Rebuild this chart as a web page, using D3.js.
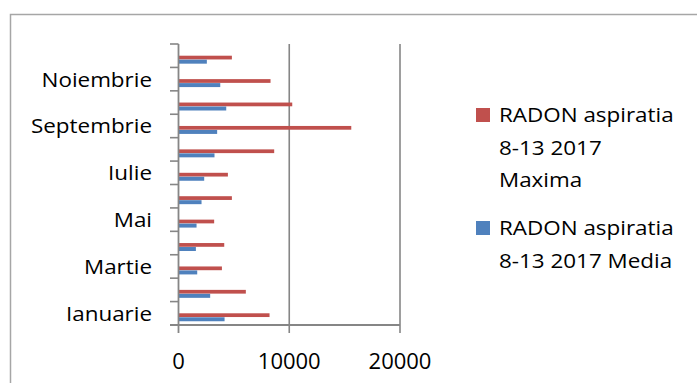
<!DOCTYPE html>
<html><head><meta charset="utf-8">
<script src="https://cdn.jsdelivr.net/npm/d3@7"></script>
<style>
html,body{margin:0;padding:0;background:#fff;}
text{font-family:"Open Sans",sans-serif;fill:#000;}
</style></head>
<body>
<svg id="chart" width="697" height="383"></svg>
<script>
const months = ["Ianuarie","Februarie","Martie","Aprilie","Mai","Iunie","Iulie","August","Septembrie","Octombrie","Noiembrie","Decembrie"];
const shownLabels = ["Ianuarie","Martie","Mai","Iulie","Septembrie","Noiembrie"];
const maxima = [8220, 6080, 3920, 4130, 3220, 4820, 4460, 8640, 15600, 10270, 8310, 4820];
const media  = [4160, 2860, 1690, 1570, 1630, 2080, 2320, 3250, 3490, 4310, 3770, 2560];
const xTicks = [0, 10000, 20000];
const seriesNames = [["RADON aspiratia","8-13 2017","Maxima"],["RADON aspiratia","8-13 2017 Media"]];
const colors = ["#c0504d","#4f81bd"];

const svg = d3.select("#chart");
const gridColor = "#868686";
const sx = 1.15;

svg.append("rect").attr("x",10.5).attr("y",14.5).attr("width",800).attr("height",500)
  .attr("fill","none").attr("stroke","#a6a6a6").attr("stroke-width",1.5);

const x = d3.scaleLinear().domain([0,20000]).range([178.5,400]);
const y = d3.scaleBand().domain(months.slice().reverse()).range([44,325]).padding(0);
const bw = y.bandwidth();

// gridlines
svg.selectAll(".grid").data(xTicks.slice(1)).enter().append("line")
  .attr("x1",d=>x(d)).attr("x2",d=>x(d)).attr("y1",44).attr("y2",333)
  .attr("stroke",gridColor).attr("stroke-width",1.6);

// bars
const data = months.map((m,i)=>({m, max:maxima[i], med:media[i]}));
svg.selectAll(".barMax").data(data).enter().append("rect")
  .attr("x",x(0)).attr("y",d=>y(d.m)+bw/2)
  .attr("width",d=>x(d.max)-x(0)).attr("height",bw*0.16)
  .attr("fill",colors[0]);
svg.selectAll(".barMed").data(data).enter().append("rect")
  .attr("x",x(0)).attr("y",d=>y(d.m)+bw/2+bw*0.17)
  .attr("width",d=>x(d.med)-x(0)).attr("height",bw*0.17)
  .attr("fill",colors[1]);

// y axis line & ticks at band boundaries
svg.append("line").attr("x1",x(0)).attr("x2",x(0)).attr("y1",44).attr("y2",333)
  .attr("stroke",gridColor).attr("stroke-width",1.8);
const bounds = months.map(m=>y(m)).concat([y(months[0])+bw]);
svg.selectAll(".ytick").data(bounds).enter().append("line")
  .attr("x1",170).attr("x2",x(0)).attr("y1",d=>d).attr("y2",d=>d)
  .attr("stroke",gridColor).attr("stroke-width",1.6);
// x axis line
svg.append("line").attr("x1",170).attr("x2",x(20000)).attr("y1",325).attr("y2",325)
  .attr("stroke",gridColor).attr("stroke-width",1.8);

// y labels
svg.selectAll(".ylab").data(shownLabels).enter().append("text")
  .attr("transform",d=>`translate(152,${y(d)+bw/2}) scale(${sx},1)`)
  .attr("text-anchor","end").attr("dominant-baseline","central")
  .attr("font-size",19.5).text(d=>d);

// x labels
svg.selectAll(".xlab").data(xTicks).enter().append("text")
  .attr("x",d=>x(d)).attr("y",360).attr("text-anchor","middle")
  .attr("dominant-baseline","central").attr("font-size",22).text(d=>d);

// legend
const legY = [108, 221];
seriesNames.forEach((lines,i)=>{
  svg.append("rect").attr("x",476).attr("y",legY[i]).attr("width",14).attr("height",14).attr("fill",colors[i]);
  lines.forEach((t,j)=>{
    svg.append("text")
      .attr("transform",`translate(499,${legY[i]+7+j*32.5}) scale(${sx},1)`)
      .attr("dominant-baseline","central").attr("font-size",19.5).text(t);
  });
});
</script>
</body></html>
